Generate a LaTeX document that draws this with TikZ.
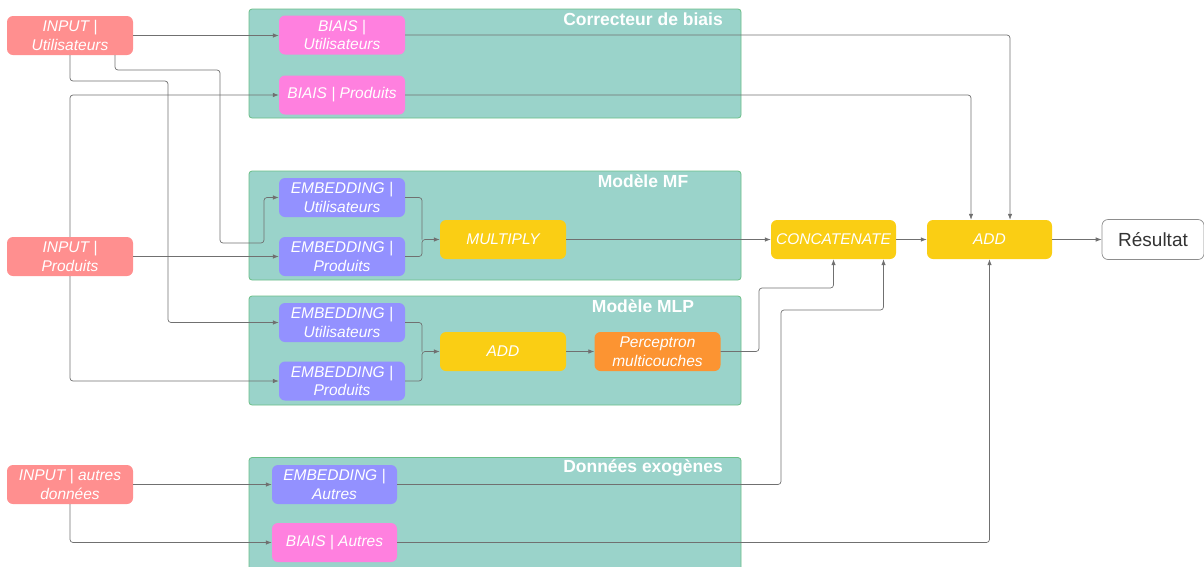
\documentclass[tikz,border=0pt]{standalone}
\usepackage{fontspec}
\setmainfont{Liberation Sans}
\usetikzlibrary{arrows.meta}
\definecolor{contfill}{HTML}{9AD3CA}
\definecolor{contdraw}{HTML}{6CBF88}
\definecolor{inpcol}{HTML}{FF8F8F}
\definecolor{biascol}{HTML}{FF80DF}
\definecolor{embcol}{HTML}{9391FF}
\definecolor{yelcol}{HTML}{FACE14}
\definecolor{orgcol}{HTML}{FC9432}
\definecolor{linecol}{HTML}{707070}
\definecolor{rescol}{HTML}{333333}
\tikzset{
  container/.style={draw=contdraw, fill=contfill, line width=0.8pt, rounded corners=3pt, inner sep=0pt},
  ctitle/.style={text=white, font=\fontsize{17.5}{20}\selectfont\bfseries, inner sep=0pt},
  box/.style={rounded corners=6pt, minimum width=126pt, minimum height=39pt, inner sep=0pt, align=center,
    text=white, font=\fontsize{15.5}{18.5}\selectfont\itshape},
  inp/.style={box, fill=inpcol},
  bias/.style={box, fill=biascol},
  emb/.style={box, fill=embcol},
  yel/.style={box, fill=yelcol},
  org/.style={box, fill=orgcol},
  res/.style={rounded corners=6pt, draw=linecol!80, line width=0.7pt, fill=white, minimum width=102pt, minimum height=40pt,
    inner sep=0pt, text=rescol, font=\fontsize{19}{22}\selectfont},
  conn/.style={draw=linecol, line width=0.7pt, rounded corners=3pt, -{Latex[length=6pt,width=4.5pt]}},
  seg/.style={draw=linecol, line width=0.7pt, rounded corners=3pt}
}
\begin{document}
\begin{tikzpicture}[x=1pt,y=-1pt]
\useasboundingbox (0,0) rectangle (1204,566);
\clip (0,0) rectangle (1204,566);
% containers
\node[container, minimum width=492pt, minimum height=109pt] (c1) at (495,63.5) {};
\node[container, minimum width=492pt, minimum height=109pt] (c2) at (495,225.5) {};
\node[container, minimum width=492pt, minimum height=109pt] (c3) at (495,350.5) {};
\node[container, minimum width=492pt, minimum height=120pt] (c4) at (495,517.5) {};
\node[ctitle] (t1) at (643,19) {Correcteur de biais};
\node[ctitle] (t2) at (643,181) {Modèle MF};
\node[ctitle] (t3) at (643,306) {Modèle MLP};
\node[ctitle] (t4) at (643,468) {Données exogènes};
% inputs
\node[inp] (iu) at (70,35.5) {INPUT |\\Utilisateurs};
\node[inp] (ip) at (70,256.5) {INPUT |\\Produits};
\node[inp] (ia) at (70,484.5) {INPUT | autres\\données};
% bias
\node[bias] (bu) at (342,35) {BIAIS |\\Utilisateurs};
\node[bias] (bp) at (342,95) {BIAIS | Produits};
% MF
\node[emb] (e1) at (342,197.5) {EMBEDDING |\\Utilisateurs};
\node[emb] (e2) at (342,256.5) {EMBEDDING |\\Produits};
\node[yel] (mult) at (503,239.5) {MULTIPLY};
% MLP
\node[emb] (e3) at (342,322.5) {EMBEDDING |\\Utilisateurs};
\node[emb] (e4) at (342,381) {EMBEDDING |\\Produits};
\node[yel] (addm) at (503,351.5) {ADD};
\node[org] (mlp) at (657.5,351.5) {Perceptron\\multicouches};
% exogenous
\node[emb, minimum width=125pt] (ea) at (334.5,484.5) {EMBEDDING |\\Autres};
\node[bias, minimum width=125pt] (ba) at (334.5,542.5) {BIAIS | Autres};
% right part
\node[yel, minimum width=125pt] (cat) at (833.5,239.5) {CONCATENATE};
\node[yel, minimum width=125pt] (add) at (989.5,239.5) {ADD};
\node[res] (r) at (1153,239.5) {Résultat};
% connectors
\draw[conn] (iu.east) -- (bu.west |- iu.east);
\draw[conn] (iu.south) -- (70,81) -- (168,81) -- (168,322.5) -- (e3.west);
\draw[conn] ([xshift=45pt]iu.south) -- (115,70) -- (220,70) -- (220,243) -- (264,243) -- (264,197.5) -- (e1.west);
\draw[conn] (ip.north) |- (bp.west);
\draw[conn] (ip.east) -- (e2.west);
\draw[conn] (ip.south) |- (e4.west);
\draw[conn] (ia.east) -- (ea.west);
\draw[conn] (ia.south) |- (ba.west);
\draw[seg] (e1.east) -| (422,239.5);
\draw[conn] (e2.east) -| (422,239.5) -- (mult.west);
\draw[seg] (e3.east) -| (422,351.5);
\draw[conn] (e4.east) -| (422,351.5) -- (addm.west);
\draw[conn] (mult.east) -- (cat.west);
\draw[conn] (addm.east) -- (mlp.west);
\draw[conn] (mlp.east) -- (759,351.5) -- (759,288) -| (cat.south);
\draw[conn] (ea.east) -- (781,484.5) -- (781,310) -| ([xshift=50pt]cat.south);
\draw[conn] (bu.east) -| ([xshift=20.5pt]add.north);
\draw[conn] (bp.east) -| ([xshift=-18.5pt]add.north);
\draw[conn] (ba.east) -| (add.south);
\draw[conn] (cat.east) -- (add.west);
\draw[conn] (add.east) -- (r.west);
\end{tikzpicture}
\end{document}
